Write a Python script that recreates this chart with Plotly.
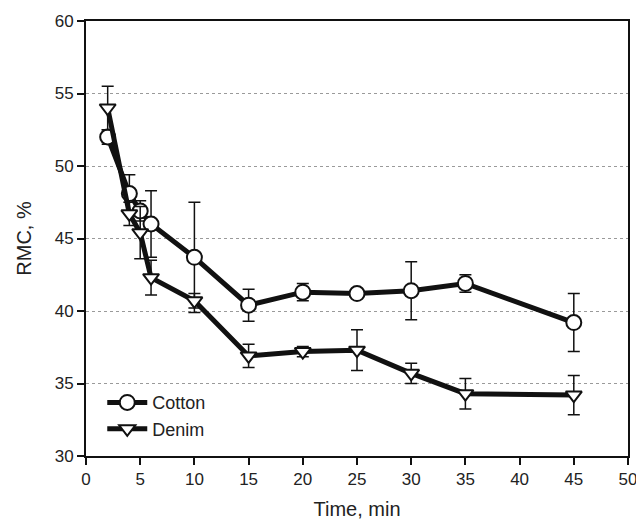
import plotly.graph_objects as go

time_cotton = [2, 4, 5, 6, 10, 15, 20, 25, 30, 35, 45]
rmc_cotton = [52.0, 48.1, 46.9, 46.0, 43.7, 40.4, 41.3, 41.2, 41.4, 41.9, 39.2]
err_cotton = [0.5, 1.3, 0.7, 2.3, 3.8, 1.1, 0.6, 0.3, 2.0, 0.6, 2.0]

time_denim = [2, 4, 5, 6, 10, 15, 20, 25, 30, 35, 45]
rmc_denim = [54.0, 46.7, 45.4, 42.3, 40.7, 36.9, 37.2, 37.3, 35.7, 34.3, 34.2]
err_denim = [1.5, 0.8, 1.8, 1.2, 0.5, 0.8, 0.35, 1.4, 0.7, 1.05, 1.35]

x_ticks = [0, 5, 10, 15, 20, 25, 30, 35, 40, 45, 50]
y_ticks = [30, 35, 40, 45, 50, 55, 60]

FONT = "Liberation Sans, Arial, sans-serif"
INK = "#111111"

fig = go.Figure()
fig.add_trace(go.Scatter(
    x=time_cotton, y=rmc_cotton, name="Cotton", mode="lines+markers",
    line=dict(color=INK, width=5),
    marker=dict(symbol="circle", size=15, color="white", line=dict(color=INK, width=2)),
    error_y=dict(type="data", array=err_cotton, visible=True, color=INK, thickness=1.5, width=6),
))
fig.add_trace(go.Scatter(
    x=time_denim, y=rmc_denim, name="Denim", mode="lines+markers",
    line=dict(color=INK, width=5),
    marker=dict(symbol="triangle-down", size=14, color="white", line=dict(color=INK, width=2)),
    error_y=dict(type="data", array=err_denim, visible=True, color=INK, thickness=1.5, width=6),
))

fig.update_layout(
    width=636, height=520,
    margin=dict(l=86, r=8, t=21, b=64),
    paper_bgcolor="white", plot_bgcolor="white",
    font=dict(family=FONT, size=17, color="#222222"),
    showlegend=True,
    legend=dict(x=0.03, y=0.165, xanchor="left", yanchor="top",
                bgcolor="rgba(0,0,0,0)", font=dict(size=18),
                tracegroupgap=0, itemwidth=40),
    xaxis=dict(range=[0, 50], tickvals=x_ticks, showgrid=False, zeroline=False,
               showline=True, linecolor=INK, linewidth=2, mirror=True,
               ticks="outside", ticklen=7, tickwidth=1.5, tickcolor=INK,
               automargin=False, ticklabeloverflow="allow",
               title=dict(text="Time, min", standoff=18)),
    yaxis=dict(range=[30, 60], tickvals=y_ticks, showgrid=True, gridcolor="#9a9a9a",
               griddash="dot", gridwidth=1, zeroline=False,
               showline=True, linecolor=INK, linewidth=2, mirror=True,
               ticks="outside", ticklen=7, tickwidth=1.5, tickcolor=INK,
               automargin=False,
               title=dict(text="RMC, %", standoff=18)),
)

fig.write_html("out.html")
